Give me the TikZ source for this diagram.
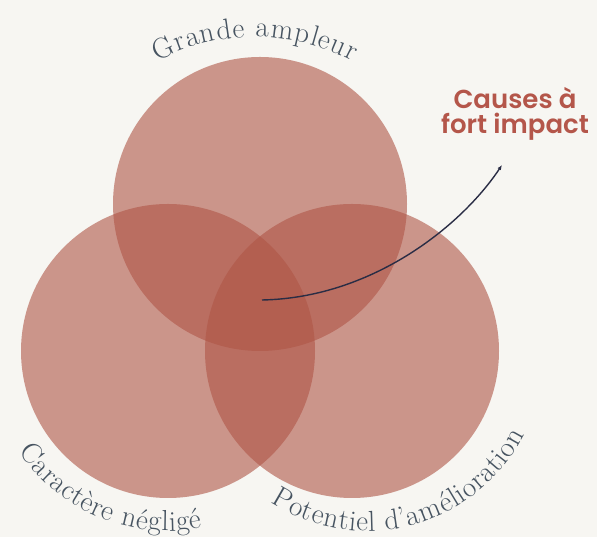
\documentclass[tikz,border=0pt]{standalone}
\usepackage{fontspec}
\newfontfamily\impactfont{Poppins SemiBold}
\usetikzlibrary{decorations.text,arrows.meta}
\definecolor{paper}{HTML}{F7F6F2}
\definecolor{rust}{RGB}{175,85,70}
\definecolor{slate}{HTML}{475461}
\definecolor{impact}{HTML}{B4564A}
\definecolor{navy}{HTML}{2A2D45}
\tikzset{
  venn/.style={fill=rust, fill opacity=0.6},
  arclabel/.style={decorate, decoration={text effects along path, text={#1},
    text effects/.cd, text along path, fit text to path,
    characters={text=slate, font=\fontsize{29}{29}\selectfont}}},
  impactlabel/.style={align=center, text=impact,
    font=\impactfont\fontsize{26}{25}\selectfont}
}

\begin{document}
\begin{tikzpicture}[x=1pt,y=1pt]
    \def\r{147}
    \fill[paper] (0,0) rectangle (597,537);
    \useasboundingbox (0,0) rectangle (597,537);
    \coordinate (top) at (260,333);
    \coordinate (left) at (168,186);
    \coordinate (right) at (352,186);
    \coordinate (toparc) at (255,292);
    \coordinate (rightarc) at (367,183);
    \fill[venn] (top) circle(\r);
    \fill[venn] (left) circle(\r);
    \fill[venn] (right) circle(\r);
    \path[arclabel={Grande ampleur}] (toparc) ++(118:208) arc[start angle=118, end angle=62, radius=208];
    \path[arclabel={Caractère négligé}] (left) ++(214:180) arc[start angle=214, end angle=281, radius=180];
    \path[arclabel={Potentiel d’amélioration}] (rightarc) ++(237:177) arc[start angle=237, end angle=333, radius=177];
    \node[impactlabel] (causes) at (515,423) {Causes à\\fort impact};
    \coordinate (core) at (262,237);
    \coordinate (tip) at (502,372);
    \draw[navy, line width=1.4pt, -{Latex[length=5pt,width=4pt]}] (core) .. controls (370,239) and (460,309) .. (tip);
\end{tikzpicture}
\end{document}
